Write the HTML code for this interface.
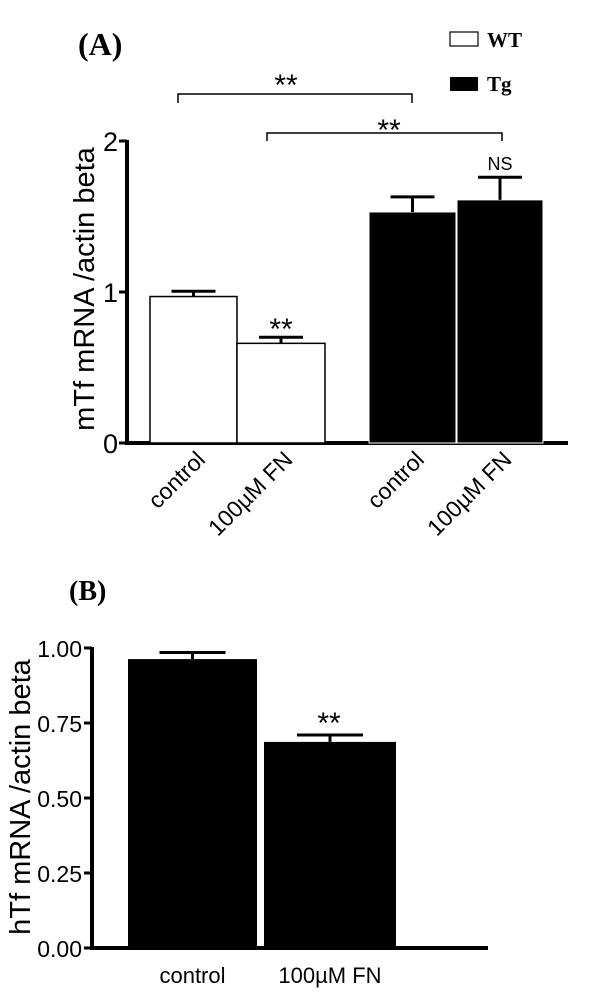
<!DOCTYPE html>
<html><head><meta charset="utf-8"><style>
body{margin:0;background:#fff}
svg{display:block}
text{font-family:"Liberation Sans",Arial,sans-serif}
.serif{font-family:"Liberation Serif",serif;font-weight:bold}
</style></head><body>
<svg width="600" height="995" viewBox="0 0 600 995">
<g id="pa"></g>
<g id="pb"></g>
</svg>
<script>
const aCats = ["control","100µM FN","control","100µM FN"];
const aGroups = ["WT","WT","Tg","Tg"];
const aValues = [0.97, 0.66, 1.53, 1.61];
const aErrors = [0.035, 0.04, 0.10, 0.15];
const aTicks = [0,1,2];
const bCats = ["control","100µM FN"];
const bValues = [0.963, 0.687];
const bErrors = [0.022, 0.023];
const bTicks = ["0.00","0.25","0.50","0.75","1.00"];

const NS="http://www.w3.org/2000/svg";
function mk(parent,tag,attrs,txt){const e=document.createElementNS(NS,tag);for(const k in attrs)e.setAttribute(k,attrs[k]);if(txt!==undefined)e.textContent=txt;parent.appendChild(e);return e;}

// Panel A
const pa=document.getElementById('pa');
const ay=v=>443-v*151;
const aBarX=[150,237,369,457], aBarW=[87,88,87,86];
mk(pa,'line',{x1:127,y1:ay(2)-1,x2:127,y2:445,stroke:'#000','stroke-width':4});
let t=mk(pa,'line',{x1:125,y1:443,x2:568,y2:443,stroke:'#000','stroke-width':4});

aTicks.forEach(v=>{
 let l=mk(pa,'line',{x1:119,y1:ay(v),x2:127,y2:ay(v),stroke:'#000','stroke-width':3});
 
 let tx=mk(pa,'text',{x:118,y:ay(v)+10,'text-anchor':'end','font-size':27},String(v));
 
});
aValues.forEach((v,i)=>{
 const x=aBarX[i],w=aBarW[i],cx=x+w/2;
 const tg=aGroups[i]==='Tg';
 let r=mk(pa,'rect',{x:x,y:ay(v),width:w,height:443-ay(v),fill:tg?'#000':'#fff',stroke:tg?'#fff':'#000','stroke-width':tg?1:1.5});
 
 const top=ay(v+aErrors[i]);
 let e=mk(pa,'path',{d:`M${cx},${ay(v)} V${top} M${cx-22},${top} H${cx+22}`,stroke:'#000','stroke-width':3,fill:'none'});
 
 let lb=mk(pa,'text',{x:cx+13,y:461,'text-anchor':'end','font-size':23,transform:`rotate(-45 ${cx+13} 461)`},aCats[i]);
 
});
let yl=mk(pa,'text',{x:0,y:0,'text-anchor':'middle','font-size':29,transform:'translate(94 289) rotate(-90)'},'mTf mRNA /actin beta');

let s=mk(pa,'text',{x:281,y:339,'text-anchor':'middle','font-size':30},'**');

s=mk(pa,'text',{x:500,y:170,'text-anchor':'middle','font-size':18},'NS');

let b=mk(pa,'path',{d:'M178,103 V94 H412 V103',stroke:'#000','stroke-width':1.5,fill:'none'});

s=mk(pa,'text',{x:286,y:95,'text-anchor':'middle','font-size':30},'**');

b=mk(pa,'path',{d:'M267,141 V133 H502 V141',stroke:'#000','stroke-width':1.5,fill:'none'});

s=mk(pa,'text',{x:389,y:140,'text-anchor':'middle','font-size':30},'**');

let tl=mk(pa,'text',{x:78,y:55,'font-size':32,class:'serif'},'(A)');

let lg=mk(pa,'rect',{x:450,y:32,width:28,height:14,fill:'#fff',stroke:'#000','stroke-width':1.2});

lg=mk(pa,'text',{x:487,y:47,'font-size':21,class:'serif'},'WT');

lg=mk(pa,'rect',{x:450,y:77,width:28,height:14,fill:'#000'});

lg=mk(pa,'text',{x:487,y:91,'font-size':21,class:'serif'},'Tg');


// Panel B
const pb=document.getElementById('pb');
const by=v=>948-v*300;
const bBarX=[128,264], bBarW=[129,132];
let ax=mk(pb,'line',{x1:92,y1:by(1)-1,x2:92,y2:950,stroke:'#000','stroke-width':4});

ax=mk(pb,'line',{x1:90,y1:948,x2:488,y2:948,stroke:'#000','stroke-width':4});

bTicks.forEach(v=>{
 const yy=by(parseFloat(v));
 let l=mk(pb,'line',{x1:84,y1:yy,x2:92,y2:yy,stroke:'#000','stroke-width':3});
 
 let tx=mk(pb,'text',{x:82,y:yy+9,'text-anchor':'end','font-size':23},v);
 
});
bValues.forEach((v,i)=>{
 const x=bBarX[i],w=bBarW[i],cx=x+w/2;
 let r=mk(pb,'rect',{x:x,y:by(v),width:w,height:948-by(v),fill:'#000'});
 
 const top=by(v+bErrors[i]);
 let e=mk(pb,'path',{d:`M${cx},${by(v)} V${top} M${cx-33},${top} H${cx+33}`,stroke:'#000','stroke-width':3,fill:'none'});
 
 let lb=mk(pb,'text',{x:cx,y:983,'text-anchor':'middle','font-size':22},bCats[i]);
 
});
yl=mk(pb,'text',{x:0,y:0,'text-anchor':'middle','font-size':29,transform:'translate(30 797) rotate(-90)'},'hTf mRNA /actin beta');

s=mk(pb,'text',{x:329,y:733,'text-anchor':'middle','font-size':30},'**');

tl=mk(pb,'text',{x:69,y:600,'font-size':28,class:'serif'},'(B)');

</script>
</body></html>
